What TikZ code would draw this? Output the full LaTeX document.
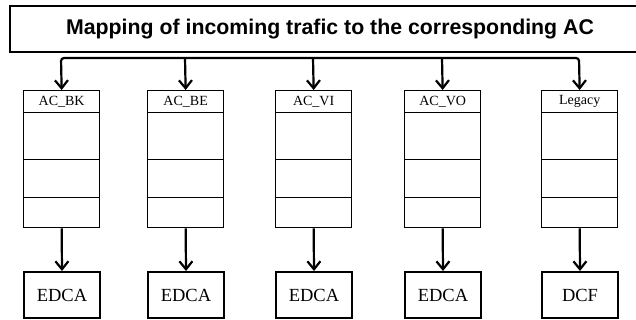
\documentclass[tikz,border=0pt]{standalone}
\usepackage{fontspec}
\setmainfont{Liberation Serif}
\newfontfamily\titlefont{Liberation Sans}
\usetikzlibrary{arrows.meta}
\begin{document}
\begin{tikzpicture}[x=1pt,y=-1pt,
  cell/.style={draw,line width=1.3pt,minimum width=76pt,inner sep=0pt,anchor=north west},
  fbox/.style={draw,line width=2pt,minimum width=76pt,minimum height=46pt,inner sep=0pt,anchor=north west,font=\fontsize{18.5}{18.5}\selectfont},
  lbl/.style={cell,minimum height=22pt,font=\fontsize{14}{14}\selectfont},
  arr/.style={line width=2.2pt,-{Straight Barb[length=8pt,width=13pt]}},
  bus/.style={line width=2.2pt,rounded corners=3pt,{Straight Barb[length=8pt,width=13pt]}-{Straight Barb[length=8pt,width=13pt]}}]
\useasboundingbox (0,0) rectangle (636,320);
\node[draw,line width=2pt,anchor=north west,minimum width=640pt,minimum height=46pt,inner sep=0pt,
  font=\titlefont\bfseries\fontsize{21.3}{24}\selectfont] (title) at (9,5)
  {Mapping of incoming trafic to the corresponding AC};
\foreach \x/\lab/\fn/\i in {23/AC\_BK/EDCA/1,147/AC\_BE/EDCA/2,275/AC\_VI/EDCA/3,404/AC\_VO/EDCA/4,541/Legacy/DCF/5}{
  \node[lbl] (l\i) at (\x,90) {\lab};
  \node[cell,minimum height=47pt] (qa\i) at (\x,112) {};
  \node[cell,minimum height=38pt] (qb\i) at (\x,159) {};
  \node[cell,minimum height=30pt] (qc\i) at (\x,197) {};
  \node[fbox] (f\i) at (\x,271) {\fn};
  \draw[arr] (qc\i.south) -- (f\i.north);
  \coordinate (bus\i) at (\x+38,58);
}
\draw[bus] (l1.north) -- (bus1) -- (bus5) -- (l5.north);
\foreach \i in {2,3,4}{
  \draw[arr] (bus\i) -- (l\i.north);
}
\end{tikzpicture}
\end{document}
